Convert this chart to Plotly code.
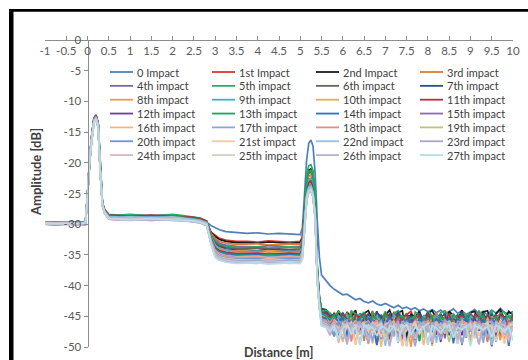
import plotly.graph_objects as go

# ---------------------------------------------------------------- data
distance_m = [
    -1.0, -0.75, -0.5, -0.25, -0.05,
    0.0, 0.05, 0.1, 0.15, 0.2, 0.25, 0.3, 0.35, 0.4, 0.5,
    0.75, 1.0, 1.25, 1.5, 1.75, 2.0, 2.25, 2.5, 2.65,
    2.8, 2.9, 3.0, 3.1, 3.25, 3.5,
    3.75, 4.0, 4.25, 4.5, 4.75, 5.0,
    5.05, 5.1, 5.15, 5.2, 5.25, 5.3, 5.35, 5.4, 5.45, 5.5,
    5.6, 5.7, 5.8, 5.9, 6.0, 6.1, 6.2, 6.3, 6.4,
    6.5, 6.6, 6.7, 6.8, 6.9, 7.0, 7.1, 7.2, 7.3,
    7.4, 7.5, 7.6, 7.7, 7.8, 7.9, 8.0, 8.1, 8.2,
    8.3, 8.4, 8.5, 8.6, 8.7, 8.8, 8.9, 9.0, 9.1,
    9.2, 9.3, 9.4, 9.5, 9.6, 9.7, 9.8, 9.9, 10.0,
]

impact_names = [
    "0 Impact", "1st Impact", "2nd Impact", "3rd impact",
    "4th impact", "5th impact", "6th impact", "7th impact",
    "8th impact", "9th impact", "10th impact", "11th impact",
    "12th impact", "13th impact", "14th impact", "15th impact",
    "16th impact", "17th impact", "18th impact", "19th impact",
    "20th impact", "21st impact", "22nd impact", "23rd impact",
    "24th impact", "25th impact", "26th impact", "27th impact",
]

line_colors = [
    "#4F81BD", "#D6372E", "#1A1A1A", "#E07A35",
    "#7E65A8", "#2EAB63", "#67625A", "#27508A",
    "#F79646", "#4BACC6", "#F4A460", "#A9343E",
    "#6E3BA3", "#14A85E", "#2475C2", "#8A6BB0",
    "#F6B77A", "#8FA4DC", "#E58C8F", "#B9C57E",
    "#6D95D8", "#F8C6A0", "#92C2E3", "#A8A4CC",
    "#D9B6C6", "#CFD3BD", "#BAAFCB", "#B7DEE8",
]

# amplitude [dB] of each trace, one row per impact, sampled at distance_m
amplitude_db = [
    [-29.8, -29.7, -29.8, -29.7, -29.8,
     -25.2, -19.0, -15.5, -12.8, -12.3, -13.6, -21.2, -26.6, -27.7, -28.6,
     -28.7, -28.6, -28.7, -28.6, -28.7, -28.7, -28.8, -29.0, -29.3,
     -29.7, -30.2, -30.6, -30.9, -31.2, -31.4,
     -31.5, -31.4, -31.6, -31.5, -31.6, -31.7,
     -30.6, -25.5, -19.5, -16.8, -16.3, -17.3, -21.8, -29.5, -35.4, -38.3,
     -39.2, -40.0, -40.6, -41.0, -41.5, -41.4, -41.9, -42.3, -42.1,
     -42.6, -42.8, -42.5, -43.0, -43.2, -42.9, -43.3, -43.6, -43.2,
     -43.7, -43.5, -43.9, -43.6, -44.1, -43.8, -44.3, -43.9, -44.4,
     -44.0, -44.6, -44.2, -43.8, -44.5, -44.1, -44.7, -44.3, -43.9,
     -44.6, -44.2, -44.8, -44.0, -44.5, -43.7, -44.4, -44.6, -44.2],
    [-29.9, -29.8, -29.9, -30.0, -29.9,
     -25.4, -19.2, -15.7, -13.0, -12.5, -13.8, -21.4, -26.8, -27.9, -28.8,
     -28.9, -28.8, -28.9, -29.0, -28.9, -28.9, -29.0, -29.2, -29.4,
     -29.8, -31.3, -31.8, -32.3, -32.6, -32.8,
     -32.8, -32.9, -32.7, -32.8, -32.9, -32.8,
     -32.0, -27.7, -23.0, -21.7, -21.5, -22.5, -26.0, -37.5, -42.1, -44.0,
     -44.1, -44.8, -46.2, -44.5, -45.3, -47.6, -44.2, -45.0, -46.8,
     -44.4, -45.9, -44.1, -48.3, -45.2, -44.6, -46.0, -44.3, -45.5,
     -47.1, -44.7, -44.2, -45.8, -44.9, -46.9, -44.3, -45.1, -44.6,
     -48.0, -45.4, -44.2, -46.3, -44.8, -45.2, -47.3, -44.4, -45.7,
     -44.1, -46.5, -45.0, -44.6, -47.8, -44.3, -45.4, -46.1, -44.7],
    [-29.7, -29.8, -29.7, -29.6, -29.7,
     -25.0, -18.8, -15.4, -12.7, -12.2, -13.5, -21.1, -26.5, -27.6, -28.5,
     -28.6, -28.5, -28.6, -28.7, -28.6, -28.5, -28.7, -28.9, -29.1,
     -29.6, -31.3, -32.0, -32.5, -32.8, -33.0,
     -33.0, -33.1, -32.9, -33.0, -33.1, -33.0,
     -32.2, -27.6, -22.5, -21.2, -21.0, -22.0, -25.5, -37.2, -41.9, -43.8,
     -43.9, -44.6, -45.4, -44.1, -46.7, -44.3, -45.2, -44.0, -47.5,
     -44.5, -44.1, -45.7, -44.2, -46.4, -44.8, -44.0, -45.9, -44.4,
     -44.1, -48.6, -44.7, -45.1, -44.2, -46.0, -44.5, -44.1, -45.3,
     -44.6, -47.2, -44.2, -44.9, -45.6, -44.0, -46.8, -44.4, -44.2,
     -45.8, -44.3, -44.1, -46.2, -44.6, -43.9, -45.5, -44.2, -44.8],
    [-29.8, -29.9, -29.8, -29.7, -29.8,
     -25.3, -19.1, -15.6, -13.1, -12.6, -13.9, -21.3, -26.7, -27.8, -28.7,
     -28.8, -28.9, -28.8, -28.7, -28.8, -28.9, -28.9, -29.1, -29.3,
     -29.7, -31.5, -32.3, -32.8, -33.1, -33.3,
     -33.3, -33.2, -33.4, -33.3, -33.2, -33.3,
     -32.5, -28.2, -23.5, -22.2, -22.0, -23.0, -26.5, -37.6, -42.2, -44.3,
     -44.6, -45.9, -44.3, -47.0, -45.1, -44.5, -46.4, -44.8, -45.3,
     -49.0, -44.9, -45.4, -44.4, -46.6, -45.0, -44.6, -47.7, -44.7,
     -45.6, -44.5, -46.1, -44.9, -45.2, -48.4, -44.6, -45.8, -44.4,
     -46.7, -45.0, -44.7, -45.5, -47.4, -44.5, -45.9, -44.8, -46.3,
     -44.6, -45.1, -49.2, -44.9, -45.7, -44.5, -46.5, -45.0, -44.8],
    [-29.9, -29.8, -29.9, -29.9, -30.0,
     -25.3, -19.1, -15.6, -12.9, -12.4, -13.7, -21.3, -26.8, -27.9, -28.9,
     -29.0, -29.1, -29.0, -28.9, -29.0, -29.1, -29.1, -29.3, -29.5,
     -29.9, -31.7, -32.6, -33.1, -33.4, -33.6,
     -33.6, -33.7, -33.5, -33.6, -33.7, -33.6,
     -32.8, -28.6, -24.0, -22.7, -22.5, -23.5, -27.0, -37.8, -42.3, -44.5,
     -45.0, -44.6, -46.8, -45.2, -44.7, -48.1, -45.4, -44.9, -46.0,
     -45.3, -44.6, -47.3, -45.1, -44.8, -46.5, -45.6, -44.7, -49.3,
     -45.2, -44.9, -46.2, -45.0, -47.8, -44.8, -45.5, -46.4, -44.9,
     -45.3, -48.6, -45.1, -44.8, -46.1, -45.4, -44.9, -47.0, -45.2,
     -44.7, -46.6, -45.3, -49.5, -45.0, -44.8, -46.3, -45.1, -45.6],
    [-29.7, -29.6, -29.7, -29.8, -29.7,
     -25.1, -18.9, -15.4, -12.8, -12.3, -13.6, -21.1, -26.5, -27.6, -28.4,
     -28.5, -28.4, -28.5, -28.6, -28.5, -28.4, -28.6, -28.8, -29.0,
     -29.5, -31.6, -32.8, -33.3, -33.6, -33.8,
     -33.8, -33.7, -33.9, -33.8, -33.7, -33.8,
     -33.0, -27.7, -21.8, -20.5, -20.3, -21.3, -24.8, -37.0, -41.8, -44.1,
     -44.0, -44.5, -45.2, -44.2, -44.8, -46.3, -44.1, -44.6, -45.0,
     -44.3, -47.1, -44.4, -44.9, -45.5, -44.2, -46.0, -44.5, -44.1,
     -45.3, -44.7, -48.2, -44.3, -44.8, -45.6, -44.2, -44.9, -46.8,
     -44.4, -44.1, -45.1, -44.6, -47.4, -44.3, -45.0, -44.5, -46.2,
     -44.2, -44.8, -45.4, -44.1, -46.9, -44.5, -44.3, -45.7, -44.4],
    [-29.8, -29.9, -29.8, -29.8, -29.9,
     -25.4, -19.2, -15.7, -13.2, -12.7, -14.0, -21.4, -26.8, -27.9, -28.8,
     -28.9, -29.0, -28.9, -28.8, -28.9, -29.0, -29.0, -29.2, -29.4,
     -29.8, -31.9, -33.0, -33.5, -33.8, -34.0,
     -34.0, -33.9, -34.1, -34.0, -34.1, -34.0,
     -33.2, -29.0, -24.3, -23.0, -22.8, -23.8, -27.3, -37.9, -42.4, -44.6,
     -44.8, -45.6, -44.5, -46.4, -45.1, -44.7, -47.9, -45.3, -44.8,
     -45.9, -44.6, -46.7, -45.2, -44.9, -45.5, -48.8, -44.7, -45.3,
     -46.0, -44.8, -45.4, -47.1, -44.9, -45.7, -44.6, -46.3, -45.1,
     -44.8, -48.0, -45.2, -45.8, -44.7, -46.6, -45.0, -44.9, -47.6,
     -45.3, -44.8, -46.1, -45.5, -44.7, -48.5, -45.1, -45.6, -44.9],
    [-30.0, -29.9, -30.0, -30.0, -29.9,
     -25.5, -19.3, -15.8, -13.0, -12.5, -13.8, -21.5, -26.9, -28.0, -29.0,
     -29.1, -29.0, -29.1, -29.2, -29.1, -29.0, -29.2, -29.4, -29.6,
     -30.0, -32.1, -33.2, -33.7, -34.0, -34.2,
     -34.2, -34.3, -34.1, -34.2, -34.3, -34.2,
     -33.4, -29.2, -24.5, -23.2, -23.0, -24.0, -27.5, -38.0, -42.5, -44.4,
     -44.3, -45.0, -44.6, -46.1, -44.4, -45.7, -44.8, -47.2, -44.5,
     -45.3, -44.7, -46.5, -44.4, -45.1, -48.9, -44.6, -45.4, -44.3,
     -46.2, -44.8, -45.0, -47.5, -44.5, -45.6, -44.4, -46.8, -44.9,
     -45.2, -44.6, -48.1, -44.7, -45.5, -44.3, -46.0, -44.8, -45.3,
     -47.0, -44.5, -45.8, -44.6, -46.4, -44.9, -45.1, -48.3, -44.7],
    [-29.8, -29.7, -29.8, -29.9, -29.8,
     -25.3, -19.2, -15.7, -13.3, -12.8, -14.1, -21.4, -26.7, -27.8, -28.7,
     -28.8, -28.7, -28.8, -28.9, -28.8, -28.7, -28.9, -29.1, -29.3,
     -29.7, -32.0, -33.4, -33.9, -34.2, -34.4,
     -34.4, -34.5, -34.3, -34.4, -34.5, -34.4,
     -33.6, -29.4, -24.7, -23.4, -23.2, -24.2, -27.7, -38.2, -42.8, -45.0,
     -45.2, -46.5, -45.0, -47.8, -45.4, -46.0, -45.1, -49.6, -45.6,
     -45.3, -46.9, -45.1, -45.8, -48.2, -45.4, -46.3, -45.0, -47.5,
     -45.7, -45.2, -50.0, -45.5, -46.1, -45.3, -47.3, -45.0, -45.9,
     -48.7, -45.4, -46.4, -45.2, -47.0, -45.6, -45.1, -49.3, -45.5,
     -46.2, -45.3, -47.6, -45.0, -45.8, -48.9, -45.4, -46.0, -45.2],
    [-29.7, -29.8, -29.7, -29.7, -29.8,
     -25.2, -19.0, -15.5, -12.9, -12.4, -13.7, -21.2, -26.6, -27.7, -28.6,
     -28.7, -28.8, -28.7, -28.6, -28.7, -28.8, -28.8, -29.0, -29.2,
     -29.6, -32.0, -33.5, -34.0, -34.3, -34.5,
     -34.5, -34.4, -34.6, -34.5, -34.4, -34.5,
     -33.7, -29.1, -24.1, -22.8, -22.6, -23.6, -27.1, -37.9, -42.6, -44.7,
     -44.7, -45.3, -47.0, -44.9, -45.6, -44.8, -46.7, -45.2, -44.6,
     -48.4, -45.1, -45.7, -44.9, -46.3, -45.0, -47.9, -44.8, -45.4,
     -45.9, -44.7, -46.6, -45.3, -49.1, -44.9, -45.5, -46.2, -44.8,
     -45.2, -47.7, -45.0, -44.7, -46.0, -45.4, -48.2, -44.9, -45.6,
     -45.1, -46.8, -44.8, -45.3, -47.4, -45.0, -45.7, -44.9, -46.5],
    [-29.9, -30.0, -29.9, -29.8, -29.9,
     -25.4, -19.2, -15.7, -13.1, -12.6, -13.9, -21.4, -26.8, -27.9, -28.9,
     -29.0, -28.9, -29.0, -29.1, -29.0, -28.9, -29.1, -29.3, -29.5,
     -29.9, -32.3, -33.7, -34.2, -34.5, -34.7,
     -34.7, -34.8, -34.6, -34.7, -34.8, -34.7,
     -33.9, -29.7, -25.0, -23.7, -23.5, -24.5, -28.0, -38.3, -42.9, -45.2,
     -45.4, -46.1, -45.2, -48.0, -45.6, -45.3, -46.7, -45.1, -47.4,
     -45.5, -45.9, -49.4, -45.3, -46.4, -45.2, -45.8, -47.9, -45.4,
     -46.2, -45.1, -48.5, -45.7, -45.3, -46.9, -45.5, -49.8, -45.2,
     -46.0, -45.6, -47.2, -45.3, -45.9, -46.6, -45.1, -48.8, -45.4,
     -45.7, -46.3, -45.2, -47.7, -45.5, -46.1, -49.0, -45.3, -45.8],
    [-29.8, -29.8, -29.7, -29.8, -29.8,
     -25.1, -18.9, -15.5, -12.8, -12.3, -13.6, -21.2, -26.6, -27.6, -28.5,
     -28.6, -28.7, -28.6, -28.5, -28.6, -28.7, -28.7, -28.9, -29.1,
     -29.5, -32.2, -33.8, -34.3, -34.6, -34.8,
     -34.8, -34.7, -34.9, -34.8, -34.7, -34.8,
     -34.0, -29.5, -24.5, -23.2, -23.0, -24.0, -27.5, -38.0, -42.5, -44.6,
     -44.5, -45.2, -44.9, -46.6, -44.7, -45.4, -47.7, -44.8, -45.1,
     -44.6, -46.2, -44.9, -45.5, -48.5, -44.7, -45.0, -46.0, -44.8,
     -45.6, -44.6, -47.0, -45.1, -44.9, -46.4, -44.7, -45.3, -48.0,
     -44.8, -45.7, -44.6, -46.8, -45.0, -44.9, -45.4, -47.3, -44.7,
     -45.1, -46.1, -44.8, -45.5, -48.4, -44.6, -45.2, -46.7, -44.9],
    [-30.0, -30.1, -30.0, -29.9, -30.0,
     -25.5, -19.4, -15.9, -13.4, -12.9, -14.2, -21.6, -27.0, -28.1, -29.1,
     -29.2, -29.1, -29.2, -29.3, -29.2, -29.1, -29.3, -29.5, -29.7,
     -30.1, -32.5, -33.9, -34.4, -34.7, -34.9,
     -34.9, -35.0, -34.8, -34.9, -35.0, -34.9,
     -34.1, -29.9, -25.3, -24.0, -23.8, -24.8, -28.3, -38.4, -43.0, -45.3,
     -45.5, -46.8, -45.3, -45.9, -48.9, -45.4, -46.2, -45.6, -47.5,
     -45.2, -46.0, -45.7, -49.7, -45.4, -46.5, -45.3, -47.8, -45.6,
     -45.9, -46.7, -45.2, -48.6, -45.5, -46.1, -45.8, -47.0, -45.3,
     -49.2, -45.6, -46.4, -45.4, -45.9, -48.1, -45.5, -46.6, -45.3,
     -47.4, -45.7, -46.0, -49.9, -45.4, -46.3, -45.6, -47.1, -45.5],
    [-29.7, -29.7, -29.8, -29.7, -29.6,
     -25.2, -19.1, -15.6, -13.0, -12.5, -13.8, -21.3, -26.7, -27.8, -28.7,
     -28.8, -28.7, -28.8, -28.9, -28.8, -28.7, -28.9, -29.1, -29.3,
     -29.7, -32.3, -34.0, -34.5, -34.8, -35.0,
     -35.0, -35.1, -34.9, -35.0, -35.1, -35.0,
     -34.2, -28.8, -22.7, -21.4, -21.2, -22.2, -25.7, -37.4, -42.0, -44.5,
     -44.9, -45.6, -44.7, -47.3, -45.1, -45.8, -44.8, -46.4, -45.3,
     -44.9, -48.7, -45.0, -45.5, -46.1, -44.8, -45.7, -47.6, -45.2,
     -44.9, -46.3, -45.4, -45.0, -49.0, -45.3, -45.8, -44.9, -46.9,
     -45.1, -45.6, -47.8, -44.8, -45.3, -46.2, -45.0, -45.9, -48.3,
     -45.2, -44.9, -46.7, -45.5, -45.1, -47.2, -45.4, -45.0, -46.0],
    [-29.9, -29.9, -30.0, -29.9, -29.8,
     -25.4, -19.3, -15.8, -13.2, -12.7, -14.0, -21.5, -26.9, -28.0, -29.0,
     -29.1, -29.2, -29.1, -29.0, -29.1, -29.2, -29.2, -29.4, -29.6,
     -30.0, -32.6, -34.1, -34.6, -34.9, -35.1,
     -35.1, -35.0, -35.2, -35.1, -35.0, -35.1,
     -34.3, -29.9, -25.1, -23.8, -23.6, -24.6, -28.1, -38.3, -42.9, -45.1,
     -45.3, -47.1, -45.5, -45.9, -45.2, -48.4, -45.6, -46.3, -45.4,
     -47.6, -45.3, -45.8, -49.6, -45.5, -46.0, -45.2, -47.3, -45.7,
     -46.5, -45.4, -45.9, -48.9, -45.3, -46.2, -45.6, -47.9, -45.4,
     -45.8, -46.6, -45.2, -49.4, -45.5, -46.1, -45.3, -47.5, -45.8,
     -46.4, -45.4, -48.0, -45.6, -45.9, -46.9, -45.3, -49.8, -45.5],
    [-29.8, -29.9, -29.8, -29.8, -29.7,
     -25.3, -19.1, -15.6, -12.9, -12.4, -13.7, -21.3, -26.7, -27.8, -28.8,
     -28.9, -28.8, -28.9, -29.0, -28.9, -28.8, -29.0, -29.2, -29.4,
     -29.8, -32.5, -34.2, -34.7, -35.0, -35.2,
     -35.2, -35.3, -35.1, -35.2, -35.3, -35.2,
     -34.4, -30.2, -25.5, -24.2, -24.0, -25.0, -28.5, -38.6, -43.1, -45.4,
     -45.6, -46.3, -45.4, -48.2, -45.8, -46.6, -45.5, -47.4, -45.7,
     -46.0, -49.3, -45.6, -46.4, -45.5, -47.9, -45.8, -46.2, -45.4,
     -48.7, -45.7, -46.5, -45.6, -47.1, -46.0, -45.5, -49.5, -45.8,
     -46.3, -45.6, -47.7, -45.9, -46.8, -45.5, -48.5, -45.7, -46.1,
     -45.6, -47.3, -46.0, -45.5, -49.1, -45.8, -46.4, -45.7, -47.0],
    [-30.0, -29.9, -30.0, -30.1, -30.0,
     -25.5, -19.4, -15.9, -13.3, -12.8, -14.1, -21.6, -27.0, -28.1, -29.1,
     -29.2, -29.3, -29.2, -29.1, -29.2, -29.3, -29.3, -29.5, -29.7,
     -30.1, -32.7, -34.3, -34.8, -35.1, -35.3,
     -35.3, -35.2, -35.4, -35.3, -35.2, -35.3,
     -34.5, -30.3, -25.7, -24.4, -24.2, -25.2, -28.7, -38.7, -43.2, -45.6,
     -45.8, -47.5, -45.6, -46.2, -49.2, -45.9, -46.7, -45.7, -48.0,
     -46.1, -45.8, -47.2, -45.6, -50.0, -46.0, -46.5, -45.7, -48.3,
     -45.9, -46.4, -47.6, -45.8, -46.0, -49.7, -45.7, -46.8, -45.9,
     -47.9, -46.2, -45.8, -46.6, -49.0, -45.7, -46.1, -47.4, -45.9,
     -46.3, -48.6, -45.8, -46.0, -47.0, -45.7, -49.4, -46.2, -45.9],
    [-29.8, -29.8, -29.9, -29.8, -29.8,
     -25.3, -19.2, -15.7, -13.1, -12.6, -13.9, -21.4, -26.8, -27.9, -28.8,
     -28.9, -29.0, -28.9, -28.8, -28.9, -29.0, -29.0, -29.2, -29.4,
     -29.8, -32.6, -34.4, -34.9, -35.2, -35.4,
     -35.4, -35.5, -35.3, -35.4, -35.5, -35.4,
     -34.6, -30.1, -25.2, -23.9, -23.7, -24.7, -28.2, -38.5, -43.0, -45.5,
     -45.7, -46.4, -47.9, -45.8, -46.1, -45.6, -48.5, -46.0, -45.9,
     -46.8, -45.7, -49.0, -46.2, -45.8, -47.3, -45.6, -46.5, -48.8,
     -45.9, -46.0, -47.1, -45.7, -46.7, -45.8, -49.6, -46.1, -45.9,
     -47.5, -45.6, -46.3, -48.2, -45.8, -46.0, -47.8, -45.7, -46.6,
     -45.9, -49.3, -46.1, -45.8, -47.0, -46.3, -45.7, -48.1, -46.0],
    [-29.9, -30.0, -29.9, -29.9, -29.8,
     -25.4, -19.2, -15.7, -13.0, -12.5, -13.8, -21.4, -26.8, -27.9, -28.9,
     -29.0, -28.9, -29.0, -29.1, -29.0, -28.9, -29.1, -29.3, -29.5,
     -29.9, -32.7, -34.5, -35.0, -35.3, -35.5,
     -35.5, -35.4, -35.6, -35.5, -35.4, -35.5,
     -34.7, -30.5, -25.8, -24.5, -24.3, -25.3, -28.8, -38.8, -43.3, -45.7,
     -45.9, -46.7, -45.7, -47.8, -46.0, -46.3, -49.1, -45.8, -46.5,
     -45.9, -47.4, -46.1, -45.8, -48.6, -46.2, -46.0, -46.9, -45.7,
     -49.8, -46.1, -46.4, -45.9, -47.7, -46.0, -45.8, -48.3, -46.2,
     -46.6, -45.9, -47.2, -46.1, -49.5, -45.8, -46.3, -46.0, -48.0,
     -45.9, -46.8, -46.2, -47.5, -45.8, -46.4, -49.0, -46.0, -46.1],
    [-30.0, -30.0, -30.1, -30.0, -29.9,
     -25.6, -19.5, -16.0, -13.4, -12.9, -14.2, -21.7, -27.1, -28.2, -29.2,
     -29.3, -29.2, -29.3, -29.4, -29.3, -29.2, -29.4, -29.6, -29.8,
     -30.2, -32.9, -34.6, -35.1, -35.4, -35.6,
     -35.6, -35.7, -35.5, -35.6, -35.7, -35.6,
     -34.8, -30.4, -25.5, -24.2, -24.0, -25.0, -28.5, -38.7, -43.3, -45.8,
     -46.0, -47.2, -46.2, -48.8, -46.1, -46.6, -45.9, -47.9, -46.3,
     -46.0, -49.4, -46.2, -46.8, -46.0, -48.2, -46.4, -46.1, -47.3,
     -46.0, -49.9, -46.3, -46.5, -46.1, -48.5, -46.2, -46.9, -46.0,
     -47.6, -46.3, -49.2, -46.1, -46.4, -46.0, -48.0, -46.2, -46.7,
     -46.1, -47.4, -46.3, -49.6, -46.0, -46.5, -46.2, -48.4, -46.1],
    [-29.8, -29.9, -29.8, -29.7, -29.8,
     -25.4, -19.3, -15.8, -13.2, -12.7, -14.0, -21.5, -26.9, -28.0, -28.9,
     -29.0, -29.1, -29.0, -28.9, -29.0, -29.1, -29.1, -29.3, -29.5,
     -29.9, -32.8, -34.7, -35.2, -35.5, -35.7,
     -35.7, -35.6, -35.8, -35.7, -35.6, -35.7,
     -34.9, -30.6, -25.9, -24.6, -24.4, -25.4, -28.9, -38.9, -43.4, -45.9,
     -46.1, -46.8, -48.3, -46.0, -46.5, -46.2, -47.6, -46.1, -49.5,
     -46.3, -46.0, -47.0, -46.4, -48.7, -46.1, -46.6, -46.2, -47.8,
     -46.0, -49.2, -46.3, -46.7, -46.1, -47.4, -46.5, -46.2, -48.9,
     -46.0, -46.8, -46.3, -47.9, -46.1, -49.7, -46.4, -46.2, -46.9,
     -46.0, -48.1, -46.3, -46.6, -46.1, -47.2, -46.4, -49.3, -46.2],
    [-29.9, -29.8, -29.9, -30.0, -29.9,
     -25.5, -19.3, -15.8, -13.3, -12.8, -14.1, -21.5, -26.9, -28.0, -29.0,
     -29.1, -29.0, -29.1, -29.2, -29.1, -29.0, -29.2, -29.4, -29.6,
     -30.0, -32.9, -34.8, -35.3, -35.6, -35.8,
     -35.8, -35.9, -35.7, -35.8, -35.9, -35.8,
     -35.0, -30.7, -26.0, -24.7, -24.5, -25.5, -29.0, -39.0, -43.5, -46.0,
     -46.2, -47.0, -46.0, -48.9, -46.3, -46.7, -46.1, -49.6, -46.4,
     -46.2, -47.5, -46.0, -46.6, -48.4, -46.3, -46.1, -47.1, -46.5,
     -49.9, -46.2, -46.8, -46.0, -47.7, -46.4, -46.3, -48.8, -46.1,
     -46.6, -46.2, -47.3, -46.0, -49.1, -46.5, -46.3, -46.9, -46.1,
     -48.2, -46.4, -46.0, -47.6, -46.3, -46.2, -49.4, -46.5, -46.1],
    [-29.7, -29.8, -29.7, -29.8, -29.7,
     -25.3, -19.2, -15.7, -13.1, -12.6, -13.9, -21.4, -26.8, -27.9, -28.8,
     -28.9, -28.8, -28.9, -29.0, -28.9, -28.8, -29.0, -29.2, -29.4,
     -29.8, -32.8, -34.9, -35.4, -35.7, -35.9,
     -35.9, -36.0, -35.8, -35.9, -36.0, -35.9,
     -35.1, -30.6, -25.6, -24.3, -24.1, -25.1, -28.6, -38.8, -43.4, -46.1,
     -46.3, -46.9, -46.1, -47.7, -46.4, -49.0, -46.2, -46.6, -46.0,
     -48.1, -46.5, -46.3, -47.2, -46.1, -49.8, -46.4, -46.7, -46.2,
     -47.6, -46.0, -46.5, -48.6, -46.3, -46.1, -47.0, -46.4, -49.3,
     -46.2, -46.8, -46.0, -47.9, -46.5, -46.3, -48.4, -46.1, -46.6,
     -46.2, -47.3, -46.4, -49.7, -46.0, -46.7, -46.3, -47.8, -46.2],
    [-30.0, -30.1, -30.0, -30.0, -30.1,
     -25.6, -19.5, -16.0, -13.5, -13.0, -14.3, -21.7, -27.1, -28.2, -29.2,
     -29.3, -29.4, -29.3, -29.2, -29.3, -29.4, -29.4, -29.6, -29.8,
     -30.2, -33.1, -35.0, -35.5, -35.8, -36.0,
     -36.0, -35.9, -36.1, -36.0, -35.9, -36.0,
     -35.2, -30.9, -26.1, -24.8, -24.6, -25.6, -29.1, -39.1, -43.6, -46.2,
     -46.4, -47.3, -46.2, -46.8, -48.6, -46.3, -46.5, -47.8, -46.1,
     -46.7, -49.5, -46.4, -46.2, -47.4, -46.6, -46.0, -48.3, -46.5,
     -46.3, -47.1, -46.8, -49.9, -46.2, -46.4, -47.6, -46.1, -46.9,
     -48.8, -46.3, -46.5, -47.2, -46.2, -49.4, -46.6, -46.0, -47.7,
     -46.4, -46.3, -48.5, -46.1, -46.8, -47.0, -46.2, -49.1, -46.5],
    [-29.8, -29.8, -29.9, -29.8, -29.9,
     -25.4, -19.3, -15.8, -13.3, -12.8, -14.1, -21.5, -26.9, -28.0, -29.0,
     -29.1, -29.2, -29.1, -29.0, -29.1, -29.2, -29.2, -29.4, -29.6,
     -30.0, -33.0, -35.1, -35.6, -35.9, -36.1,
     -36.1, -36.2, -36.0, -36.1, -36.2, -36.1,
     -35.3, -30.8, -25.8, -24.5, -24.3, -25.3, -28.8, -39.0, -43.5, -46.3,
     -46.5, -47.1, -46.3, -49.3, -46.6, -46.2, -47.9, -46.4, -46.8,
     -46.3, -48.8, -46.5, -46.1, -47.5, -46.7, -49.7, -46.2, -46.6,
     -46.4, -47.3, -46.2, -48.7, -46.5, -46.9, -46.3, -49.2, -46.1,
     -46.7, -47.8, -46.4, -46.2, -48.2, -46.6, -46.3, -47.0, -46.5,
     -49.6, -46.2, -46.8, -46.4, -47.6, -46.3, -46.5, -48.9, -46.6],
    [-29.9, -30.0, -29.9, -29.9, -30.0,
     -25.5, -19.4, -15.9, -13.4, -12.9, -14.2, -21.6, -27.0, -28.1, -29.1,
     -29.2, -29.1, -29.2, -29.3, -29.2, -29.1, -29.3, -29.5, -29.7,
     -30.1, -33.1, -35.2, -35.7, -36.0, -36.2,
     -36.2, -36.1, -36.3, -36.2, -36.1, -36.2,
     -35.4, -30.9, -26.0, -24.7, -24.5, -25.5, -29.0, -39.1, -43.6, -46.4,
     -46.6, -47.6, -46.4, -46.9, -48.4, -46.5, -47.2, -46.3, -49.4,
     -46.7, -46.4, -47.7, -46.6, -46.2, -48.9, -46.5, -46.8, -47.3,
     -46.3, -49.8, -46.6, -46.4, -47.9, -46.7, -46.2, -48.1, -46.5,
     -46.9, -46.3, -47.4, -46.6, -49.5, -46.4, -46.8, -46.2, -48.6,
     -46.5, -47.1, -46.3, -46.7, -49.0, -46.4, -47.5, -46.6, -46.3],
    [-30.0, -29.9, -30.0, -30.0, -30.1,
     -25.6, -19.5, -16.0, -13.5, -13.0, -14.3, -21.7, -27.1, -28.2, -29.2,
     -29.3, -29.2, -29.3, -29.4, -29.3, -29.2, -29.4, -29.6, -29.8,
     -30.2, -33.2, -35.3, -35.8, -36.1, -36.3,
     -36.3, -36.4, -36.2, -36.3, -36.4, -36.3,
     -35.5, -31.0, -26.1, -24.8, -24.6, -25.6, -29.1, -39.2, -43.7, -46.5,
     -46.7, -48.1, -46.5, -47.2, -46.8, -49.6, -46.4, -46.9, -47.7,
     -46.6, -48.5, -46.3, -46.8, -47.4, -46.5, -49.9, -46.7, -46.4,
     -47.9, -46.6, -46.3, -48.3, -46.8, -47.1, -46.5, -49.3, -46.7,
     -46.4, -47.6, -46.9, -46.3, -48.8, -46.6, -46.5, -47.3, -46.8,
     -49.5, -46.4, -46.7, -47.8, -46.5, -46.3, -48.0, -46.9, -46.6],
    [-29.9, -29.9, -30.0, -29.9, -29.8,
     -25.5, -19.4, -15.9, -13.4, -12.9, -14.2, -21.6, -27.0, -28.1, -29.1,
     -29.2, -29.3, -29.2, -29.1, -29.2, -29.3, -29.3, -29.5, -29.7,
     -30.1, -33.2, -35.4, -35.9, -36.2, -36.4,
     -36.4, -36.3, -36.5, -36.4, -36.3, -36.4,
     -35.6, -31.0, -25.9, -24.6, -24.4, -25.4, -28.9, -39.2, -43.7, -46.6,
     -46.8, -47.4, -46.6, -48.7, -46.9, -46.5, -47.8, -46.7, -49.7,
     -46.4, -47.0, -46.8, -48.2, -46.6, -46.9, -47.5, -46.5, -49.2,
     -46.7, -46.4, -48.0, -46.8, -47.3, -46.6, -49.6, -46.5, -46.9,
     -47.7, -46.7, -46.4, -48.5, -46.8, -47.1, -46.6, -49.9, -46.5,
     -46.9, -47.2, -46.7, -48.4, -46.5, -46.8, -47.6, -46.6, -49.0],
]

x_tick_values = [-1, -0.5, 0, 0.5, 1, 1.5, 2, 2.5, 3, 3.5, 4, 4.5, 5, 5.5,
                 6, 6.5, 7, 7.5, 8, 8.5, 9, 9.5, 10]
x_tick_labels = ["-1", "-0.5", "0", "0.5", "1", "1.5", "2", "2.5", "3", "3.5",
                 "4", "4.5", "5", "5.5", "6", "6.5", "7", "7.5", "8", "8.5",
                 "9", "9.5", "10"]
y_tick_values = [0, -5, -10, -15, -20, -25, -30, -35, -40, -45, -50]
y_tick_labels = ["0", "-5", "-10", "-15", "-20", "-25", "-30", "-35", "-40",
                 "-45", "-50"]

for name, row in zip(impact_names, amplitude_db):
    if len(row) != len(distance_m):
        raise ValueError(f"{name}: {len(row)} values for {len(distance_m)} distances")

# ---------------------------------------------------------------- layout helpers
W, H = 528, 360
ML, MR, MT, MB = 45, 15, 40, 13
FONT = "Lato"


def px_x(px):
    """Pixel column -> paper x."""
    return (px - ML) / (W - ML - MR)


def px_y(py):
    """Pixel row -> paper y."""
    return 1 - (py - MT) / (H - MT - MB)


fig = go.Figure()

for name, color, row in zip(impact_names, line_colors, amplitude_db):
    fig.add_trace(go.Scatter(
        x=distance_m, y=row, mode="lines", name=name,
        line=dict(color=color, width=1.7), showlegend=False,
        hoverinfo="x+y+name",
    ))

shapes = []
annotations = []

# four-column key, filled row by row
key_line_x = [110, 212, 316, 420]
key_line_len = 23
key_row_y0, key_row_step = 72, 13.85
for i, (name, color) in enumerate(zip(impact_names, line_colors)):
    r, c = divmod(i, 4)
    yy = px_y(key_row_y0 + r * key_row_step)
    x0 = key_line_x[c]
    shapes.append(dict(type="line", xref="paper", yref="paper",
                       x0=px_x(x0), x1=px_x(x0 + key_line_len), y0=yy, y1=yy,
                       line=dict(color=color, width=1.8)))
    annotations.append(dict(xref="paper", yref="paper",
                            x=px_x(x0 + key_line_len + 1.5), y=yy,
                            xanchor="left", yanchor="middle", showarrow=False,
                            text=name, font=dict(family=FONT, size=11, color="#404040")))

# axis titles
annotations.append(dict(xref="paper", yref="paper", x=px_x(278), y=px_y(352),
                        xanchor="center", yanchor="middle", showarrow=False,
                        text="<b>Distance [m]</b>",
                        font=dict(family=FONT, size=12.5, color="#404040")))
annotations.append(dict(xref="paper", yref="paper", x=px_x(36), y=px_y(172),
                        xanchor="center", yanchor="middle", showarrow=False,
                        textangle=-90, text="<b>Amplitude [dB]</b>",
                        font=dict(family=FONT, size=13, color="#404040")))

# black frame on the top and left edges
shapes.append(dict(type="rect", xref="paper", yref="paper", layer="above",
                   x0=px_x(9), x1=px_x(532), y0=px_y(11.7), y1=px_y(9),
                   fillcolor="black", line=dict(width=0)))
shapes.append(dict(type="rect", xref="paper", yref="paper", layer="above",
                   x0=px_x(9), x1=px_x(13.5), y0=px_y(364), y1=px_y(9),
                   fillcolor="black", line=dict(width=0)))

axis_grey = "#8C8C8C"
tick_font = dict(family=FONT, size=11.5, color="#595959")

fig.update_layout(
    width=W, height=H,
    margin=dict(l=ML, r=MR, t=MT, b=MB),
    paper_bgcolor="white", plot_bgcolor="white",
    font=dict(family=FONT),
    showlegend=False,
    shapes=shapes, annotations=annotations,
    xaxis=dict(
        range=[-1, 10], anchor="free", position=1, side="bottom",
        tickmode="array", tickvals=x_tick_values, ticktext=x_tick_labels,
        ticks="inside", ticklen=4, tickcolor=axis_grey,
        showline=True, linecolor=axis_grey, linewidth=1,
        showgrid=False, zeroline=False, automargin=False,
        tickfont=tick_font,
    ),
    yaxis=dict(
        range=[-50, 0], anchor="free", position=1 / 11, side="left",
        tickmode="array", tickvals=y_tick_values, ticktext=y_tick_labels,
        ticks="outside", ticklen=4, tickcolor=axis_grey,
        showline=True, linecolor=axis_grey, linewidth=1,
        showgrid=False, zeroline=False, automargin=False,
        tickfont=tick_font,
    ),
)

fig.write_html("out.html")
